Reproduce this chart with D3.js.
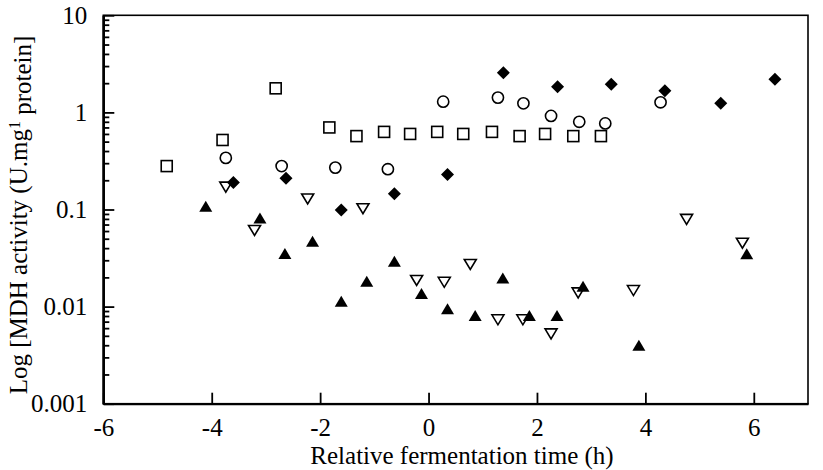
<!DOCTYPE html>
<html>
<head>
<meta charset="utf-8">
<script src="https://cdn.jsdelivr.net/npm/d3@7"></script>
<style>
  body { margin: 0; background: #fff; }
  text { font-family: "Liberation Serif", "Times New Roman", serif; fill: #000; }
</style>
</head>
<body>
<div class="graph"></div>
<script>
// data (x = relative fermentation time in h, y = MDH activity)
let squareX = [-4.83, -3.80, -2.82, -1.83, -1.33, -0.82, -0.34, 0.16, 0.64, 1.17, 1.68, 2.15, 2.67, 3.18]
let squareY = [0.28, 0.52, 1.77, 0.70, 0.57, 0.63, 0.60, 0.63, 0.60, 0.63, 0.57, 0.60, 0.57, 0.57]

let circleX = [-3.74, -2.71, -1.72, -0.75, 0.27, 1.28, 1.75, 2.26, 2.78, 3.26, 4.28]
let circleY = [0.34, 0.28, 0.27, 0.26, 1.29, 1.42, 1.24, 0.92, 0.80, 0.77, 1.27]

let diamondX = [-3.60, -2.63, -1.61, -0.63, 0.35, 1.38, 2.38, 3.37, 4.36, 5.39, 6.39]
let diamondY = [0.19, 0.21, 0.099, 0.145, 0.23, 2.56, 1.84, 1.95, 1.67, 1.24, 2.19]

let downTriX = [-3.74, -3.21, -2.23, -1.21, -0.22, 0.29, 0.77, 1.28, 1.74, 2.26, 2.76, 3.78, 4.76, 5.79]
let downTriY = [0.172, 0.0615, 0.130, 0.103, 0.0188, 0.0180, 0.0275, 0.0074, 0.0074, 0.0053, 0.0140, 0.0148, 0.080, 0.0455]

let upTriX = [-4.11, -3.11, -2.65, -2.14, -1.61, -1.14, -0.63, -0.13, 0.35, 0.86, 1.37, 1.86, 2.37, 2.85, 3.88, 5.87]
let upTriY = [0.107, 0.081, 0.0348, 0.0466, 0.0112, 0.0180, 0.0290, 0.0135, 0.0094, 0.0080, 0.0195, 0.0080, 0.0080, 0.0160, 0.00395, 0.0346]

let xTicks = [-6, -4, -2, 0, 2, 4, 6]
let yTicks = [0.001, 0.01, 0.1, 1, 10]
let yTickLabels = ["0.001", "0.01", "0.1", "1", "10"]

let width = 823, height = 470
let margin = { top: 15.3, right: 15, bottom: 66.3, left: 103.3 }
let w = width - margin.left - margin.right
let h = height - margin.top - margin.bottom
let fontSize = 25

let svg = d3.select('.graph').append('svg')
    .attr("width", width)
    .attr("height", height)

let g = svg.append("g")
    .attr("transform", "translate(" + margin.left + "," + margin.top + ")")

let x = d3.scaleLinear().domain([-6, 7]).range([0, w])
let y = d3.scaleLog().domain([0.001, 10]).range([h, 0])

// frame
g.append("rect")
    .attr("width", w).attr("height", h)
    .attr("fill", "none").attr("stroke", "#000").attr("stroke-width", 1.6)

// ===== y axis: major ticks with labels, minor ticks without =====
let yAxis = d3.axisLeft(y)
    .tickValues(yTicks)
    .tickFormat(function (d, i) { return yTickLabels[i] })
    .tickSizeInner(-11).tickSizeOuter(0).tickPadding(16)
g.append("g").attr("class", "y-axis").call(yAxis)

let minor = y.ticks().filter(function (d) {
    return yTicks.indexOf(d) < 0 && d < 10
})
g.append("g").attr("class", "y-minor")
    .call(d3.axisLeft(y).tickValues(minor).tickFormat("").tickSizeInner(-6).tickSizeOuter(0))

// ===== x axis =====
let xAxis = d3.axisBottom(x)
    .tickValues(xTicks)
    .tickFormat(function (d) { return String(d) })
    .tickSizeInner(-11).tickSizeOuter(0).tickPadding(15)
g.append("g").attr("class", "x-axis")
    .attr("transform", "translate(0," + h + ")")
    .call(xAxis)

g.selectAll(".y-axis path, .y-minor path, .x-axis path")
    .attr("stroke", "#000").attr("stroke-width", 2.2)
g.selectAll(".tick line").attr("stroke", "#000").attr("stroke-width", 1.8)
g.selectAll(".tick text")
    .style("font-family", "'Liberation Serif', 'Times New Roman', serif")
    .style("font-size", fontSize + "px").attr("fill", "#000")

// ===== markers =====
function pairs(xs, ys) {
    return xs.map(function (d, i) { return { x: d, y: ys[i] } })
}
function place(d) { return "translate(" + x(d.x) + "," + y(d.y) + ")" }

g.selectAll(".sq").data(pairs(squareX, squareY)).enter()
    .append("rect").attr("class", "sq")
    .attr("x", -5.5).attr("y", -5.5).attr("width", 11).attr("height", 11)
    .attr("transform", place)
    .attr("fill", "#fff").attr("stroke", "#000").attr("stroke-width", 1.6)

g.selectAll(".ci").data(pairs(circleX, circleY)).enter()
    .append("circle").attr("class", "ci")
    .attr("r", 5.6)
    .attr("transform", place)
    .attr("fill", "#fff").attr("stroke", "#000").attr("stroke-width", 1.6)

g.selectAll(".dtri").data(pairs(downTriX, downTriY)).enter()
    .append("path").attr("class", "dtri")
    .attr("d", "M-6,-4.5L6,-4.5L0,5.5Z")
    .attr("transform", place)
    .attr("fill", "#fff").attr("stroke", "#000").attr("stroke-width", 1.6)

g.selectAll(".utri").data(pairs(upTriX, upTriY)).enter()
    .append("path").attr("class", "utri")
    .attr("d", "M-6.5,5L6.5,5L0,-6Z")
    .attr("transform", place)
    .attr("fill", "#000")

g.selectAll(".dia").data(pairs(diamondX, diamondY)).enter()
    .append("path").attr("class", "dia")
    .attr("d", "M0,-6.5L6.5,0L0,6.5L-6.5,0Z")
    .attr("transform", place)
    .attr("fill", "#000")

// ===== axis titles =====
svg.append("text")
    .attr("x", 462)
    .attr("y", 464)
    .attr("text-anchor", "middle")
    .style("font-size", fontSize + "px")
    .text("Relative fermentation time (h)")

let yl = svg.append("text")
    .attr("transform", "translate(27,215) rotate(-90)")
    .attr("text-anchor", "middle")
    .style("font-size", fontSize + "px")
yl.append("tspan").text("Log [MDH activity (U.mg")
yl.append("tspan").attr("dy", "-0.45em").style("font-size", "16px").text("1")
yl.append("tspan").attr("dy", "0.45em").text(" protein]")
</script>
</body>
</html>
